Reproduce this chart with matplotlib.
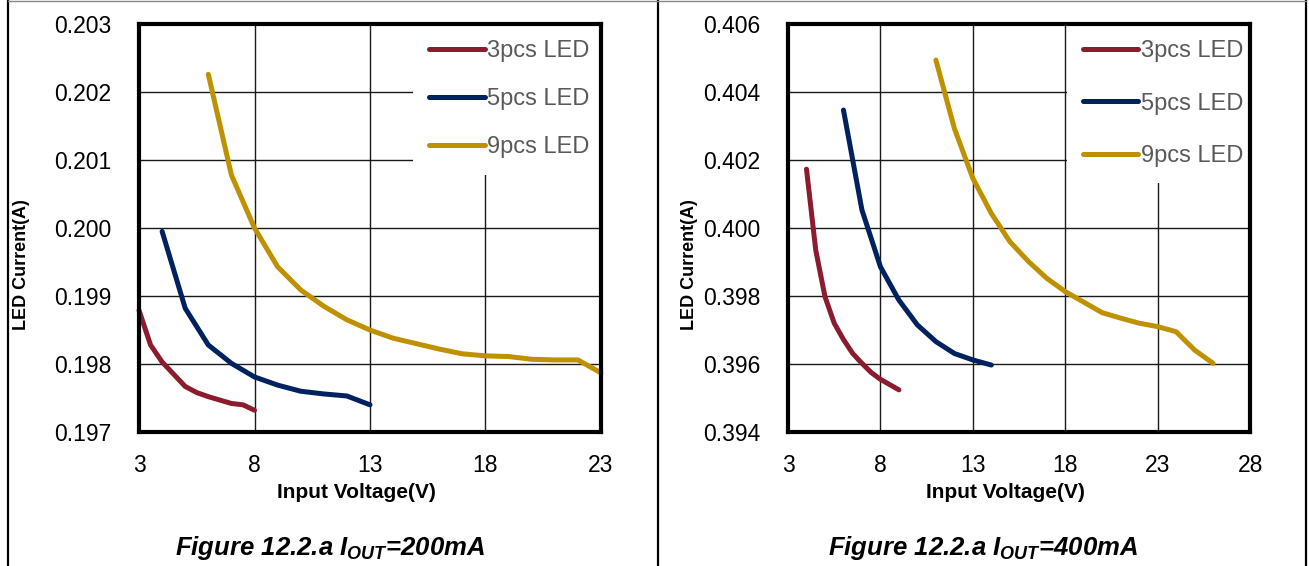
import matplotlib
matplotlib.use("Agg")
import matplotlib.pyplot as plt
from matplotlib.lines import Line2D

plt.rcParams['font.family'] = ['Liberation Sans', 'DejaVu Sans']
plt.rcParams['mathtext.fontset'] = 'custom'
plt.rcParams['mathtext.it'] = 'Liberation Sans:italic:bold'
plt.rcParams['mathtext.rm'] = 'Liberation Sans:italic:bold'

# --- data, Iout = 200mA
v3_200 = [3, 3.5, 4, 4.5, 5, 5.5, 6, 6.5, 7, 7.5, 8]
i3_200 = [0.19879, 0.19828, 0.19803, 0.19785, 0.19767, 0.19758, 0.19752, 0.19747, 0.19742, 0.19740, 0.19732]
v5_200 = [4, 5, 6, 7, 8, 9, 10, 11, 12, 13]
i5_200 = [0.19995, 0.19882, 0.19828, 0.19801, 0.19781, 0.19769, 0.19760, 0.19756, 0.19753, 0.19740]
v9_200 = [6, 7, 8, 9, 10, 11, 12, 13, 14, 15, 16, 17, 18, 19, 20, 21, 22, 23]
i9_200 = [0.20226, 0.20078, 0.20000, 0.19943, 0.19909, 0.19885, 0.19865, 0.19850, 0.19838,
          0.19830, 0.19822, 0.19815, 0.19812, 0.19811, 0.19807, 0.19806, 0.19806, 0.19787]

# --- data, Iout = 400mA
v3_400 = [4, 4.5, 5, 5.5, 6, 6.5, 7, 7.5, 8, 9]
i3_400 = [0.40173, 0.39935, 0.39798, 0.39720, 0.39672, 0.39631, 0.39602, 0.39575, 0.39555, 0.39524]
v5_400 = [6, 7, 8, 9, 10, 11, 12, 13, 14]
i5_400 = [0.40347, 0.40053, 0.39886, 0.39788, 0.39715, 0.39666, 0.39631, 0.39612, 0.39597]
v9_400 = [11, 12, 13, 14, 15, 16, 17, 18, 19, 20, 21, 22, 23, 24, 25, 26]
i9_400 = [0.40494, 0.40293, 0.40146, 0.40043, 0.39960, 0.39902, 0.39852, 0.39813, 0.39782,
          0.39751, 0.39735, 0.39720, 0.39710, 0.39695, 0.39641, 0.39602]

labels = ["3pcs LED", "5pcs LED", "9pcs LED"]
colors = ['#8A1C2E', '#00215F', '#BF9000']

fig = plt.figure(figsize=(13.09, 5.66), dpi=100)

ax1 = fig.add_axes([0.1062, 0.2367, 0.3529, 0.7209])
ax2 = fig.add_axes([0.6020, 0.2367, 0.3530, 0.7209])


def style(ax, xlim, xticks, ylim, yticks, yfmt):
    ax.set_xlim(*xlim)
    ax.set_ylim(*ylim)
    ax.set_xticks(xticks)
    ax.set_yticks(yticks)
    ax.set_yticklabels([yfmt.format(t) for t in yticks])
    ax.grid(True, color='#1a1a1a', linewidth=1.0)
    ax.set_axisbelow(True)
    ax.tick_params(length=0, labelsize=16.5)
    ax.tick_params(axis='y', pad=20)
    ax.tick_params(axis='x', pad=16)
    for s in ax.spines.values():
        s.set_linewidth(3)
        s.set_color('black')
        s.set_zorder(6)


style(ax1, (3, 23), [3, 8, 13, 18, 23], (0.197, 0.203),
      [0.197, 0.198, 0.199, 0.200, 0.201, 0.202, 0.203], "{:.3f}")
style(ax2, (3, 28), [3, 8, 13, 18, 23, 28], (0.394, 0.406),
      [0.394, 0.396, 0.398, 0.400, 0.402, 0.404, 0.406], "{:.3f}")

for v, i, c in zip([v3_200, v5_200, v9_200], [i3_200, i5_200, i9_200], colors):
    ax1.plot(v, i, color=c, lw=3.6, solid_capstyle='round', clip_on=False)
for v, i, c in zip([v3_400, v5_400, v9_400], [i3_400, i5_400, i9_400], colors):
    ax2.plot(v, i, color=c, lw=3.6, solid_capstyle='round', clip_on=False)

handles = [Line2D([], [], color=c, lw=3.6, solid_capstyle='round') for c in colors]
for ax, x0, sp in [(ax1, 0.594, 1.11), (ax2, 0.603, 1.30)]:
    leg = ax.legend(handles, labels, loc='upper left', bbox_to_anchor=(x0, 1.0),
                    borderaxespad=0, fontsize=17, frameon=True, fancybox=False,
                    handlelength=2.35, handletextpad=0.1, labelspacing=sp,
                    borderpad=0.68)
    leg.get_frame().set_facecolor('white')
    leg.get_frame().set_edgecolor('none')
    leg.get_frame().set_alpha(1)
    for t in leg.get_texts():
        t.set_color('#595959')
    leg.set_zorder(5)

# axis labels
fig.text(0.0168, 0.532, "LED Current(A)", rotation=90, ha='center', va='center',
         fontsize=13, fontweight='bold')
fig.text(0.527, 0.532, "LED Current(A)", rotation=90, ha='center', va='center',
         fontsize=13, fontweight='bold')
fig.text(0.272, 0.129, "Input Voltage(V)", ha='center', va='center',
         fontsize=15, fontweight='bold')
fig.text(0.768, 0.129, "Input Voltage(V)", ha='center', va='center',
         fontsize=15, fontweight='bold')

# captions
fig.text(0.252, 0.032, r"Figure 12.2.a $I_{OUT}$=200mA", ha='center', va='center',
         fontsize=18.5, fontweight='bold', fontstyle='italic')
fig.text(0.751, 0.032, r"Figure 12.2.a $I_{OUT}$=400mA", ha='center', va='center',
         fontsize=18.5, fontweight='bold', fontstyle='italic')

# table border lines
W, H = 1309, 566
for xp in [8, 658, 1306]:
    fig.add_artist(Line2D([xp / W, xp / W], [0, 1], color='black', lw=1.6))
fig.add_artist(Line2D([8 / W, 1306 / W], [1 - 1 / H, 1 - 1 / H], color='#888888', lw=1.0))

fig.savefig("out.png", dpi=100)
